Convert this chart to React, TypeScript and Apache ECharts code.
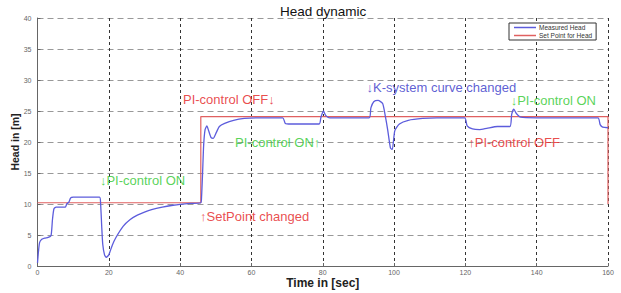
import React, { useEffect, useRef } from "react";
import * as echarts from "echarts";

const measuredT = [
  0, 0.3, 0.6, 1.2, 2.0, 3.0, 3.8, 4.2, 4.6, 5.2, 7.8, 8.2, 8.8, 9.3, 10, 17.4,
  17.7, 18.0, 18.3, 18.8, 19.3, 20, 21, 22, 24, 26, 28, 30, 32, 35, 38, 40, 43,
  45.8, 46.0, 46.3, 46.6, 47.0, 47.5, 48.0, 48.7, 49.3, 50.2, 51, 52.5, 55, 58,
  62, 68.8, 69.5, 71, 79.0, 79.5, 80.2, 80.8, 82, 93, 93.5, 94.3, 95.5, 96.8,
  97.6, 98.2, 99.0, 99.5, 100.2, 101.5, 104, 108, 112, 119.8, 120.5, 122, 124,
  126, 129, 132.5, 133.0, 133.6, 134.3, 135.5, 140, 157.2, 157.8, 158.5, 160,
];
const measuredH = [
  0.5, 2.5, 3.8, 4.3, 4.5, 4.6, 4.9, 7.5, 9.2, 9.5, 9.5, 10.0, 10.3, 11.0, 11.1,
  11.1, 10.0, 6.5, 3.5, 1.8, 1.4, 1.8, 3.4, 4.6, 6.4, 7.5, 8.2, 8.7, 9.1, 9.5,
  9.8, 9.95, 10.1, 10.2, 11, 15, 19.5, 22.0, 22.6, 21.8, 20.7, 20.6, 21.6, 22.5,
  23.0, 23.5, 23.8, 23.9, 23.9, 23.0, 22.9, 22.9, 24.0, 25.0, 24.3, 23.9, 23.9,
  25.5, 26.5, 26.7, 26.2, 24.0, 22.0, 19.0, 18.8, 21.8, 22.9, 23.5, 23.8, 23.9,
  23.9, 22.6, 22.1, 22.0, 22.2, 22.5, 22.5, 24.5, 25.3, 24.6, 24.0, 23.9, 23.9,
  22.8, 22.4, 22.3,
];
const setPointT = [0, 45.8, 45.8, 160, 160];
const setPointH = [10.2, 10.2, 24.1, 24.1, 10];

const annotationTexts = [
  "↓PI-control ON",
  "↑SetPoint changed",
  "PI-control OFF↓",
  "PI-control ON↑",
  "↓K-system curve changed",
  "↓PI-control ON",
  "↑PI-control OFF",
];
const annotationT = [17.5, 45.6, 40.8, 55.4, 92.3, 132.7, 120.8];
const annotationH = [13.8, 8.0, 26.8, 20.0, 28.8, 26.7, 19.9];
const annotationColors = ["#2ec82e", "#e4201c", "#e4201c", "#2ec82e", "#3434c8", "#2ec82e", "#e4201c"];

const xTicks = [0, 20, 40, 60, 80, 100, 120, 140, 160];
const yTicks = [0, 5, 10, 15, 20, 25, 30, 35, 40];

const FONT = "'Liberation Sans', Arial, sans-serif";

export default function App() {
  const ref = useRef<HTMLDivElement>(null);
  useEffect(() => {
    if (!ref.current) return;
    const chart = echarts.init(ref.current, undefined, { renderer: "svg" });
    chart.setOption({
      animation: false,
      textStyle: { fontFamily: FONT },
      title: {
        text: "Head dynamic",
        left: 280,
        top: 4,
        padding: 0,
        textStyle: { fontSize: 13.5, fontWeight: "normal", color: "#111", fontFamily: FONT },
      },
      legend: {
        data: ["Measured Head", "Set Point for Head"],
        orient: "vertical",
        left: 509,
        top: 23,
        padding: [1, 4, 1, 5],
        itemGap: 1,
        itemWidth: 22,
        itemHeight: 1.5,
        icon: "rect",
        borderColor: "#333",
        borderWidth: 1,
        borderRadius: 0,
        backgroundColor: "#fff",
        textStyle: { fontSize: 6.5, color: "#333", fontFamily: FONT, padding: [0, 0, 0, -2] },
      },
      grid: { left: 37.5, right: 13, top: 18, bottom: 27, outerBoundsMode: "none", containLabel: false },
      xAxis: {
        type: "value",
        min: xTicks[0],
        max: xTicks[xTicks.length - 1],
        interval: 20,
        name: "Time in [sec]",
        nameLocation: "middle",
        nameGap: 11,
        nameMoveOverlap: false,
        nameTextStyle: { fontSize: 12, fontWeight: "bold", color: "#222", fontFamily: FONT },
        axisLine: { lineStyle: { color: "#666", width: 1 } },
        axisTick: { inside: true, length: 3, lineStyle: { color: "#666" } },
        axisLabel: { fontSize: 7, color: "#666", margin: 3 },
        splitLine: { show: true, lineStyle: { color: "#333", type: [3, 3], width: 1 } },
      },
      yAxis: {
        type: "value",
        min: yTicks[0],
        max: yTicks[yTicks.length - 1],
        interval: 5,
        name: "Head in [m]",
        nameLocation: "middle",
        nameGap: 17,
        nameMoveOverlap: false,
        nameTextStyle: { fontSize: 10.5, fontWeight: "bold", color: "#222", fontFamily: FONT },
        axisLine: { show: true, lineStyle: { color: "#666", width: 1 } },
        axisTick: { show: true, inside: true, length: 3, lineStyle: { color: "#666" } },
        axisLabel: { fontSize: 7, color: "#666", margin: 6 },
        splitLine: { show: true, lineStyle: { color: "#999", type: [6, 4], width: 1 } },
      },
      series: [
        {
          name: "Set Point for Head",
          type: "line",
          data: setPointT.map((t, i) => [t, setPointH[i]]),
          showSymbol: false,
          symbol: "none",
          lineStyle: { color: "#e06060", width: 1.2 },
          itemStyle: { color: "#e06060" },
          z: 2,
        },
        {
          name: "Measured Head",
          type: "line",
          data: measuredT.map((t, i) => [t, measuredH[i]]),
          showSymbol: false,
          symbol: "none",
          smooth: 0.2,
          lineStyle: { color: "#5c5cdc", width: 1.3 },
          itemStyle: { color: "#5c5cdc" },
          z: 3,
        },
        {
          name: "annotations",
          type: "scatter",
          symbolSize: 0,
          data: annotationTexts.map((txt, i) => ({
            name: txt,
            value: [annotationT[i], annotationH[i]],
            label: { color: annotationColors[i] },
          })),
          label: {
            show: true,
            position: "right",
            distance: 0,
            formatter: (p: any) => p.name,
            fontSize: 13,
            fontFamily: FONT,
          },
          z: 4,
        },
      ],
    });
    return () => chart.dispose();
  }, []);
  return (
    <div
      ref={ref}
      style={{ position: "fixed", left: 0, top: 0, width: 621, height: 293, background: "#fff" }}
    />
  );
}
